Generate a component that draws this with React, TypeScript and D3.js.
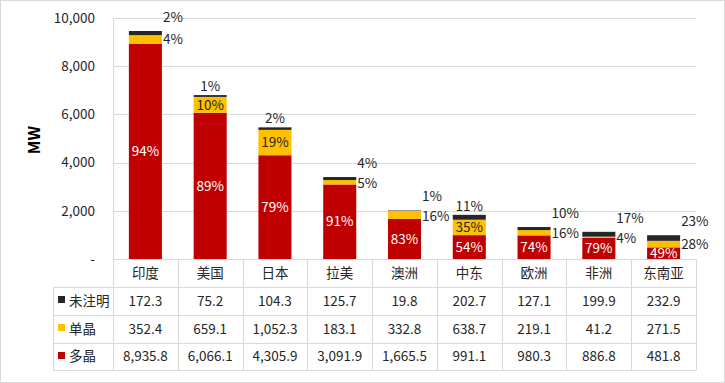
import React from "react";
import * as d3 from "d3";

const categories = ["印度", "美国", "日本", "拉美", "澳洲", "中东", "欧洲", "非洲", "东南亚"];
const seriesNames = ["未注明", "单晶", "多晶"];
const unspecified = [172.3, 75.2, 104.3, 125.7, 19.8, 202.7, 127.1, 199.9, 232.9];
const mono = [352.4, 659.1, 1052.3, 183.1, 332.8, 638.7, 219.1, 41.2, 271.5];
const poly = [8935.8, 6066.1, 4305.9, 3091.9, 1665.5, 991.1, 980.3, 886.8, 481.8];
const unspecifiedPct = ["2%", "1%", "2%", "4%", "1%", "11%", "10%", "17%", "23%"];
const monoPct = ["4%", "10%", "19%", "5%", "16%", "35%", "16%", "4%", "28%"];
const polyPct = ["94%", "89%", "79%", "91%", "83%", "54%", "74%", "79%", "49%"];
const yTicks = [0, 2000, 4000, 6000, 8000, 10000];

// label placement options (style)
const blackPlacement = ["right", "top", "top", "right", "right", "top", "right", "right", "right"];
const yellowPlacement = ["right", "inside", "inside", "right", "right", "inside", "right", "right", "right"];

const W = 725, H = 383;
const left = 113, right = 696, top = 18, base = 259;
const tableLeft = 53;
const rowH = [28, 28, 27];
const headerBottom = 287;
const colors = { black: "#262626", yellow: "#FFC000", red: "#C00000" };
const grid = "#d9d9d9";
const font = "'Noto Sans CJK SC', 'Noto Sans', sans-serif";
const fs = 13.5;

export default function App() {
  const y = d3.scaleLinear().domain([0, 10000]).range([base, top]);
  const x = d3.scaleBand<string>().domain(categories).range([left, right]).paddingInner(0.49).paddingOuter(0.245);
  const col = d3.scaleBand<string>().domain(categories).range([left, right]).padding(0);
  const fmt = d3.format(",.1f");

  const rows = [
    { name: seriesNames[0], color: colors.black, values: unspecified },
    { name: seriesNames[1], color: colors.yellow, values: mono },
    { name: seriesNames[2], color: colors.red, values: poly },
  ];
  const rowTops: number[] = [];
  let acc = headerBottom;
  rowH.forEach((h) => { rowTops.push(acc); acc += h; });
  const tableBottom = acc;

  return (
    <svg width={W} height={H} style={{ position: "absolute", left: 0, top: 0, fontFamily: font }}>
      <defs>
        <clipPath id="plotClip">
          <rect x={0} y={0} width={W} height={base} />
        </clipPath>
      </defs>
      <rect x={0} y={0} width={W} height={H} fill="#fff" />
      <rect x={0.5} y={0.5} width={W - 1} height={H - 1} fill="none" stroke="#d9d9d9" />
      {yTicks.map((t) => (
        <line key={t} x1={left} x2={right} y1={Math.round(y(t)) + 0.5} y2={Math.round(y(t)) + 0.5} stroke={grid} />
      ))}
      <line x1={left + 0.5} x2={left + 0.5} y1={top} y2={tableBottom} stroke={grid} />
      {yTicks.map((t) => (
        <text key={"l" + t} x={95} y={y(t)} dy="0.35em" textAnchor="end" fontSize={fs} fill="#262626">
          {t === 0 ? "-" : d3.format(",")(t)}
        </text>
      ))}
      <text transform={`translate(39.5,140) rotate(-90)`} textAnchor="middle" fontSize={16} fontWeight="bold" fill="#000">MW</text>

      <g clipPath="url(#plotClip)">
        {categories.map((c, i) => {
          const bx = x(c)!;
          const bw = x.bandwidth();
          const p = poly[i], m = mono[i], u = unspecified[i];
          const yRedTop = y(p), yYelTop = y(p + m), yBlkTop = y(p + m + u);
          const cx = bx + bw / 2;
          const blackRightY = yBlkTop - 14;
          const yelRightY = Math.max((yYelTop + yRedTop) / 2, blackPlacement[i] === "right" ? blackRightY + 20 : 0);
          return (
            <g key={c}>
              <rect x={bx} y={yRedTop} width={bw} height={base - yRedTop} fill={colors.red} />
              <rect x={bx} y={yYelTop} width={bw} height={yRedTop - yYelTop} fill={colors.yellow} />
              <rect x={bx} y={yBlkTop} width={bw} height={yYelTop - yBlkTop} fill={colors.black} />
              <text x={cx} y={(yRedTop + base) / 2} dy="0.35em" textAnchor="middle" fontSize={fs} fill="#fff">{polyPct[i]}</text>
              {yellowPlacement[i] === "inside" ? (
                <text x={cx} y={(yYelTop + yRedTop) / 2} dy="0.35em" textAnchor="middle" fontSize={fs} fill="#262626">{monoPct[i]}</text>
              ) : (
                <text x={bx + bw + 1} y={yelRightY} dy="0.35em" textAnchor="start" fontSize={fs} fill="#262626">{monoPct[i]}</text>
              )}
              {blackPlacement[i] === "top" ? (
                <text x={cx} y={yBlkTop - 9} dy="0.35em" textAnchor="middle" fontSize={fs} fill="#262626">{unspecifiedPct[i]}</text>
              ) : (
                <text x={bx + bw + 1} y={blackRightY} dy="0.35em" textAnchor="start" fontSize={fs} fill="#262626">{unspecifiedPct[i]}</text>
              )}
            </g>
          );
        })}
      </g>

      <g>
        {categories.map((c) => (
          <text key={"h" + c} x={col(c)! + col.bandwidth() / 2} y={(base + headerBottom) / 2} dy="0.35em" textAnchor="middle" fontSize={fs} fill="#262626">{c}</text>
        ))}
        <line x1={tableLeft} x2={right} y1={headerBottom + 0.5} y2={headerBottom + 0.5} stroke={grid} />
        {rowTops.slice(1).map((t) => (
          <line key={"hl" + t} x1={tableLeft} x2={right} y1={t + 0.5} y2={t + 0.5} stroke={grid} />
        ))}
        <line x1={tableLeft} x2={right} y1={tableBottom + 0.5} y2={tableBottom + 0.5} stroke={grid} />
        <line x1={tableLeft + 0.5} x2={tableLeft + 0.5} y1={headerBottom} y2={tableBottom} stroke={grid} />
        {categories.map((c) => (
          <line key={"v" + c} x1={Math.round(col(c)! + col.bandwidth()) + 0.5} x2={Math.round(col(c)! + col.bandwidth()) + 0.5} y1={base} y2={tableBottom} stroke={grid} />
        ))}
        {rows.map((r, ri) => (
          <g key={r.name}>
            <rect x={58} y={rowTops[ri] + 9} width={7} height={7} fill={r.color} />
            <text x={69} y={rowTops[ri] + rowH[ri] / 2} dy="0.35em" fontSize={fs} fill="#262626">{r.name}</text>
            {categories.map((c, i) => (
              <text key={c} x={col(c)! + col.bandwidth() / 2} y={rowTops[ri] + rowH[ri] / 2} dy="0.35em" textAnchor="middle" fontSize={fs} fill="#262626">{fmt(r.values[i])}</text>
            ))}
          </g>
        ))}
      </g>
    </svg>
  );
}
